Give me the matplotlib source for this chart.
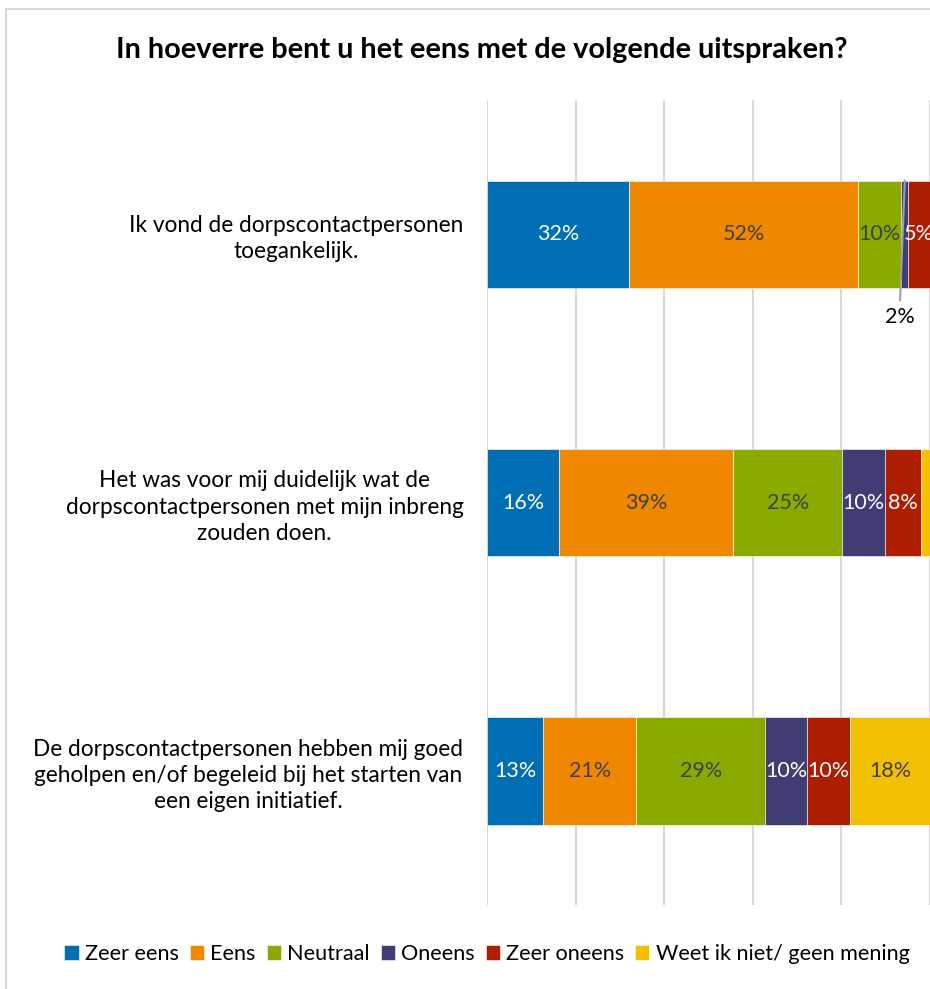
import matplotlib.pyplot as plt
from matplotlib.patches import Rectangle

plt.rcParams['font.family'] = ['Lato', 'DejaVu Sans']

statements = [
    'Ik vond de dorpscontactpersonen\ntoegankelijk.',
    'Het was voor mij duidelijk wat de\ndorpscontactpersonen met mijn inbreng\nzouden doen.',
    'De dorpscontactpersonen hebben mij goed\ngeholpen en/of begeleid bij het starten van\neen eigen initiatief.',
]
answers = ['Zeer eens', 'Eens', 'Neutraal', 'Oneens', 'Zeer oneens', 'Weet ik niet/ geen mening']

# percentages per answer, one value per statement
zeer_eens = [32.1, 16.2, 12.7]
eens = [51.7, 39.4, 21.0]
neutraal = [9.7, 24.6, 29.1]
oneens = [1.6, 9.7, 9.5]
zeer_oneens = [4.9, 8.1, 9.7]
weet_niet = [0.0, 2.0, 18.0]
series = [zeer_eens, eens, neutraal, oneens, zeer_oneens, weet_niet]

colors = ['#006EB5', '#EF8700', '#8AAA00', '#403C74', '#AD1D00', '#F2C000']
text_colors = ['white', '#404040', '#404040', 'white', 'white', '#404040']

fig = plt.figure(figsize=(9.3, 9.89), dpi=100)
ax = fig.add_axes([487 / 930, 1 - 905 / 989, 1 - 487 / 930, 805 / 989])

# chart area border (only left and top visible)
fig.patches.append(Rectangle((6 / 930, -0.1), 1.2, 1 - 9 / 989 + 0.1, transform=fig.transFigure,
                             fill=False, edgecolor='#d9d9d9', linewidth=1.5, zorder=0))

ypos = list(range(len(statements)))
left = [0.0] * len(statements)
for k, vals in enumerate(series):
    ax.barh(ypos, vals, left=left, height=0.4, color=colors[k], label=answers[k],
            edgecolor='white', linewidth=0.4, zorder=3)
    for i, v in enumerate(vals):
        cx = left[i] + v / 2
        if v >= 3:
            ax.text(cx, i, f'{v:.0f}%', ha='center', va='center', fontsize=15.5,
                    color=text_colors[k], zorder=4, clip_on=False)
        elif i == 0 and v > 0:
            ax.annotate(f'{v:.0f}%', xy=(cx, i - 0.2), xytext=(cx - 1.2, i + 0.31),
                        ha='center', va='center', fontsize=15.5, color='black',
                        arrowprops=dict(arrowstyle='-', color='#a0a0a0', lw=1.5,
                                        shrinkA=3, shrinkB=0), zorder=5)
    left = [l + v for l, v in zip(left, vals)]

ax.set_xlim(0, 100)
ax.set_ylim(2.5, -0.5)
ax.set_xticks(range(0, 101, 20))
ax.xaxis.grid(True, color='#d9d9d9', linewidth=1.5, zorder=0)
ax.tick_params(axis='x', length=0, labelbottom=False)
ax.tick_params(axis='y', length=0, pad=17)
ax.set_yticks(ypos)
ax.set_yticklabels(statements, fontsize=16.3, multialignment='center', color='black',
                   linespacing=1.3)
for s in ax.spines.values():
    s.set_visible(False)

fig.text(482 / 930, 1 - 50 / 989, 'In hoeverre bent u het eens met de volgende uitspraken?',
         ha='center', va='center', fontsize=20.8, fontweight='bold')

fig.legend(loc='center', bbox_to_anchor=(487 / 930, 1 - 954 / 989), ncol=6, frameon=False,
           fontsize=15.6, handlelength=0.65, handleheight=0.65, handletextpad=0.3,
           columnspacing=0.5)

fig.savefig('out.png', dpi=100)
